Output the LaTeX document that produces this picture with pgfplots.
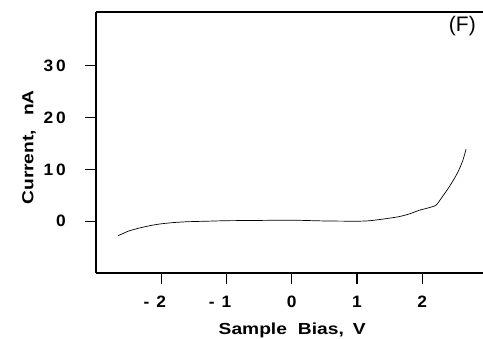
\documentclass[border=0pt]{standalone}
\usepackage{fontspec}
\usepackage{pgfplots}
\pgfplotsset{compat=1.18}
\newfontfamily\labfont[FakeStretch=1.2]{Liberation Sans}
\newfontfamily\tickfont[FakeStretch=1.05]{Liberation Sans}
\newfontfamily\ffont{Liberation Sans}
\begin{document}
\begin{tikzpicture}
\begin{axis}[
  name=ax,
  scale only axis,
  width=387pt, height=261pt,
  xmin=-3, xmax=2.93,
  ymin=-10, ymax=40.4,
  axis x line*=bottom,
  axis y line*=left,
  axis line style={line width=1.3pt},
  tick align=outside,
  major tick length=11pt,
  every tick/.style={line width=1.2pt, black},
  xtick={-2,-1,0,1,2},
  xticklabels={{\llap{-\hspace{7pt}}2},{\llap{-\hspace{7pt}}1},0,1,2},
  ytick={0,10,20,30},
  yticklabels={0,{1\hspace{3pt}0},{2\hspace{3pt}0},{3\hspace{3pt}0}},
  xticklabel style={font=\tickfont\bfseries\fontsize{16.5}{18}\selectfont, inner sep=0pt, anchor=north, yshift=-12pt},
  yticklabel style={font=\tickfont\bfseries\fontsize{16.5}{18}\selectfont, inner sep=0pt, anchor=east, xshift=-19pt},
  every axis x label/.style={at={(axis description cs:0.507,-0.19)}, anchor=north, inner sep=0pt},
  every axis y label/.style={at={(axis description cs:-0.155,0.481)}, rotate=90, anchor=south, inner sep=0pt},
  xlabel={Sample\hspace{11pt}Bias,\hspace{9pt}V},
  ylabel={Current,\hspace{14pt}nA},
  label style={font=\labfont\bfseries\fontsize{16}{18}\selectfont},
  clip=false,
]
\draw[line width=1.3pt] (rel axis cs:0,1) -- (rel axis cs:1,1);
\addplot[black, line width=0.7pt, smooth, tension=0.4] coordinates {
  (-2.66,-2.8) (-2.5,-1.9) (-2.33,-1.3) (-2.15,-0.8) (-2.0,-0.5) (-1.8,-0.25)
  (-1.6,-0.1) (-1.3,0.0) (-1.0,0.1) (-0.5,0.15) (0.0,0.2) (0.5,0.05)
  (1.0,0.0) (1.2,0.1) (1.45,0.5) (1.65,0.9) (1.8,1.4) (1.95,2.1) (2.1,2.6) (2.21,3.1)
  (2.3,4.6) (2.4,6.4) (2.47,7.8) (2.55,9.6) (2.62,11.7) (2.67,13.9)
};
\end{axis}
\node[font=\ffont\fontsize{21}{24}\selectfont, inner sep=0pt, anchor=east] at ([shift={(-7pt,-14pt)}]ax.north east) {(F)};
\pgfresetboundingbox
\path ([shift={(-96pt,-66pt)}]ax.south west) rectangle ([shift={(0pt,12pt)}]ax.north east);
\end{tikzpicture}
\end{document}
